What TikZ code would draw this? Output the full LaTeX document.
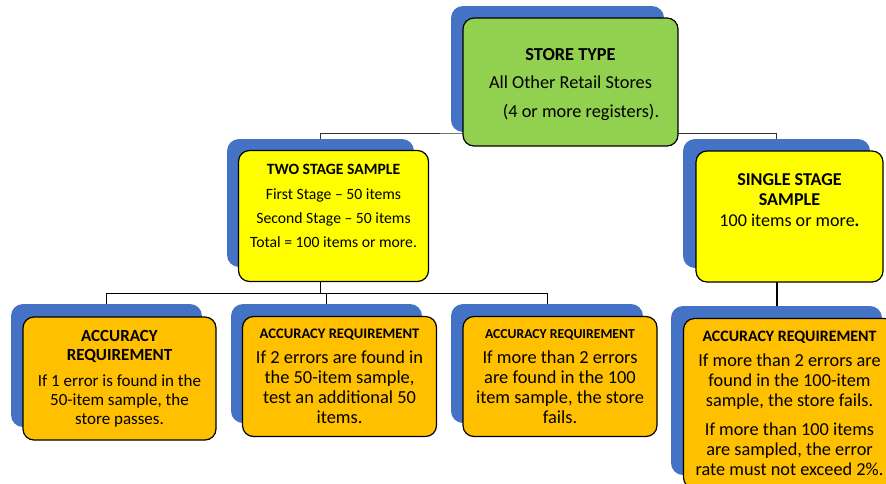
\documentclass[tikz,border=0pt]{standalone}
\usepackage{fontspec}
\setmainfont{Carlito}
\usetikzlibrary{backgrounds}
\definecolor{tileblue}{HTML}{4472C4}
\definecolor{tilegreen}{HTML}{92D050}
\definecolor{tileyellow}{HTML}{FFFF00}
\definecolor{tileorange}{HTML}{FFC000}
\begin{document}
\begin{tikzpicture}[x=1pt,y=-1pt,
    back/.style={fill=tileblue, rounded corners=12pt, inner sep=0pt},
    front/.style={draw=black, line width=1.2pt, rounded corners=11pt, inner sep=0pt,
                  align=center, xshift=13pt, yshift=-13pt},
    conn/.style={line width=0.9pt, black!80}]
    \useasboundingbox (0,0) rectangle (886,483);
    \clip (0,0) rectangle (886,483);

    % store type
    \node[back, minimum width=213pt, minimum height=126pt] (typeB) at (557.5,69) {};
    \node[front, fill=tilegreen, minimum width=215pt, minimum height=128pt, text height=74pt,
          font=\fontsize{18.3}{28.5}\selectfont] (type) at (typeB.center)
        {\textbf{STORE TYPE}\\ All Other Retail Stores\\ \hspace*{21pt}(4 or more registers).};

    % sample kinds
    \node[back, minimum width=187pt, minimum height=128pt] (twoB) at (320.5,203) {};
    \node[front, fill=tileyellow, minimum width=190pt, minimum height=131pt, text depth=20pt,
          font=\fontsize{15.7}{24.3}\selectfont] (two) at (twoB.center)
        {\textbf{TWO STAGE SAMPLE}\\ First Stage -- 50 items\\ Second Stage -- 50 items\\ Total = 100 items or more.};

    \node[back, minimum width=187pt, minimum height=129pt] (oneB) at (776.5,203.5) {};
    \node[front, fill=tileyellow, minimum width=187pt, minimum height=131pt, text depth=33pt,
          font=\fontsize{18.1}{20.5}\selectfont] (one) at (oneB.center)
        {\textbf{SINGLE STAGE}\\ \textbf{SAMPLE}\\ 100 items or more\textbf{.}};

    % accuracy requirements
    \node[back, minimum width=191pt, minimum height=123pt] (passB) at (106.5,365.5) {};
    \node[front, fill=tileorange, minimum width=193pt, minimum height=123pt,
          font=\fontsize{17}{19}\selectfont] (pass) at (passB.center)
        {\textbf{ACCURACY}\\ \textbf{REQUIREMENT}\\[7pt] If 1 error is found in the\\ 50-item sample, the\\ store passes.};

    \node[back, minimum width=191pt, minimum height=119pt] (retestB) at (326.5,363.5) {};
    \node[front, fill=tileorange, minimum width=194pt, minimum height=120pt,
          font=\fontsize{18.4}{20}\selectfont] (retest) at (retestB.center)
        {{\fontsize{14.6}{18}\selectfont\bfseries ACCURACY REQUIREMENT}\\[5pt] If 2 errors are found in\\ the 50-item sample,\\ test an additional 50\\ items.};

    \node[back, minimum width=192pt, minimum height=119pt] (failB) at (547,363.5) {};
    \node[front, fill=tileorange, minimum width=194pt, minimum height=120pt,
          font=\fontsize{18.4}{20}\selectfont] (fail) at (failB.center)
        {{\fontsize{13.7}{18}\selectfont\bfseries ACCURACY REQUIREMENT}\\[5pt] If more than 2 errors\\ are found in the 100\\ item sample, the store\\ fails.};

    \node[back, minimum width=211pt, minimum height=169pt] (limitB) at (776.5,390.5) {};
    \node[front, fill=tileorange, minimum width=212pt, minimum height=170pt,
          font=\fontsize{18.3}{20}\selectfont] (limit) at (limitB.center)
        {{\fontsize{15.9}{18}\selectfont\bfseries ACCURACY REQUIREMENT}\\[5pt] If more than 2 errors are\\ found in the 100-item\\ sample, the store fails.\\[9pt] If more than 100 items\\ are sampled, the error\\ rate must not exceed 2\%.};

    % connectors, behind the tiles
    \coordinate (busTop) at (0,133);
    \coordinate (busLow) at (0,293);
    \begin{scope}[on background layer]
        \draw[conn] (twoB.north) |- (busTop -| typeB.south) -| (oneB.north);
        \draw[conn, black] (twoB.south) -- (twoB.south |- busLow);
        \draw[conn, black] (passB.north) |- (failB.north |- busLow) -- (failB.north);
        \draw[conn, black] (retestB.north) -- (retestB.north |- busLow);
        \draw[conn, black, line width=2pt] (oneB.south) -- (limitB.north);
    \end{scope}
\end{tikzpicture}
\end{document}
